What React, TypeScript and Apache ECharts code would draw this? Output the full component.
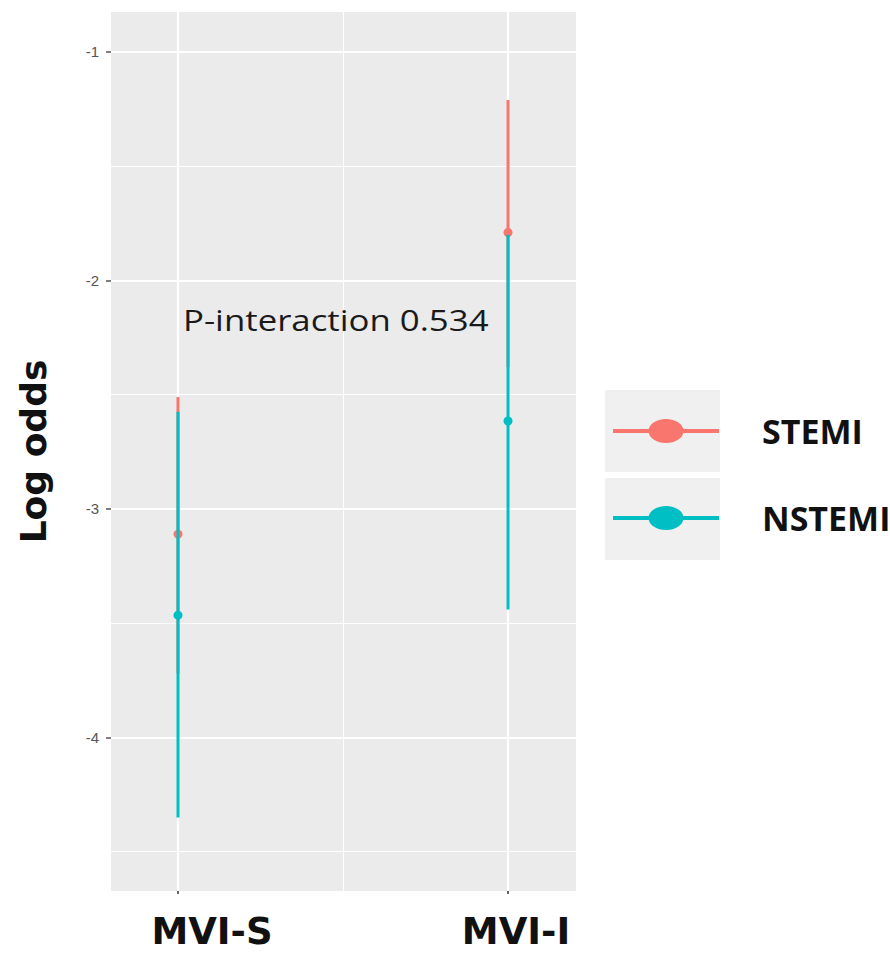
import React, { useEffect, useRef } from "react";
import * as echarts from "echarts";

const categories = ["MVI-S", "MVI-I"];
const categoryPos = [1, 2];
const groups = ["STEMI", "NSTEMI"];
const stemiEst = [-3.11, -1.79];
const stemiLow = [-3.72, -2.38];
const stemiHigh = [-2.51, -1.21];
const nstemiEst = [-3.465, -2.615];
const nstemiLow = [-4.35, -3.44];
const nstemiHigh = [-2.575, -1.8];
const yTickValues = [-4, -3, -2, -1];
const yMajorGrid = [-4, -3, -2, -1];
const yMinorGrid = [-4.5, -3.5, -2.5, -1.5];
const xMajorGrid = [1, 2];
const xMinorGrid = [1.5];
const annotation = "P-interaction 0.534";

const RED = "#F8766D";
const TEAL = "#00BFC4";

const legendIcon =
  "path://M0,10H37V14H0Z M69,10H106V14H69Z M35.5,12A17.5,12 0 1,1 70.5,12A17.5,12 0 1,1 35.5,12Z";

function errorBarSeries(name: string, color: string, lo: number[], hi: number[], z: number) {
  return {
    name,
    type: "custom",
    z,
    itemStyle: { color },
    encode: { x: 0, y: [1, 2] },
    data: categoryPos.map((x, i) => [x, lo[i], hi[i]]),
    renderItem: (params: any, api: any) => {
      const x = api.value(0);
      const p1 = api.coord([x, api.value(1)]);
      const p2 = api.coord([x, api.value(2)]);
      return {
        type: "line",
        shape: { x1: p1[0], y1: p1[1], x2: p2[0], y2: p2[1] },
        style: { stroke: color, lineWidth: 3 },
      };
    },
  };
}

function pointSeries(name: string, color: string, est: number[], z: number) {
  return {
    name,
    type: "scatter",
    z,
    symbol: "circle",
    symbolSize: 9,
    itemStyle: { color, opacity: 1 },
    data: categoryPos.map((x, i) => [x, est[i]]),
  };
}

function legendFor(name: string, top: number) {
  return {
    orient: "vertical",
    left: 608,
    top,
    itemWidth: 106,
    itemHeight: 24,
    data: [{ name, icon: legendIcon }],
    textStyle: {
      fontFamily: "Open Sans",
      fontWeight: "bold",
      fontSize: 34,
      color: "#111111",
      padding: [0, 0, 0, 38],
    },
    selectedMode: false,
  };
}

export default function App() {
  const ref = useRef<HTMLDivElement>(null);
  useEffect(() => {
    if (!ref.current) return;
    const chart = echarts.init(ref.current, undefined, { renderer: "svg" });
    const gridLines = [
      ...yMajorGrid.map((v) => ({ yAxis: v, lineStyle: { width: 2.2 } })),
      ...yMinorGrid.map((v) => ({ yAxis: v, lineStyle: { width: 1.1 } })),
      ...xMajorGrid.map((v) => ({ xAxis: v, lineStyle: { width: 2.2 } })),
      ...xMinorGrid.map((v) => ({ xAxis: v, lineStyle: { width: 1.1 } })),
    ];
    const labelRich = (padLeft: number) => ({
      fontFamily: "DejaVu Sans",
      fontWeight: "bold",
      fontSize: 37,
      lineHeight: 30,
      color: "#111111",
      padding: [0, 0, 0, padLeft],
    });
    chart.setOption({
      animation: false,
      backgroundColor: "#ffffff",
      grid: {
        left: 111,
        top: 12,
        width: 465,
        height: 879,
        show: true,
        backgroundColor: "#ebebeb",
        borderWidth: 0,
      },
      xAxis: {
        type: "value",
        min: 0.797,
        max: 2.206,
        axisLine: { show: false },
        splitLine: { show: false },
        axisTick: {
          show: true,
          customValues: categoryPos,
          length: 3,
          lineStyle: { color: "#333333", width: 1.5 },
        },
        axisLabel: {
          customValues: categoryPos,
          margin: 25,
          formatter: (v: number) => {
            const i = categoryPos.indexOf(v);
            return i === 0 ? "{a|" + categories[0] + "}" : "{b|" + categories[1] + "}";
          },
          rich: { a: labelRich(68), b: labelRich(16) },
        },
      },
      yAxis: {
        type: "value",
        min: -4.672,
        max: -0.825,
        name: "Log odds",
        nameLocation: "middle",
        nameGap: 60,
        nameRotate: 90,
        nameTextStyle: {
          fontFamily: "DejaVu Sans",
          fontWeight: "bold",
          fontSize: 36,
          color: "#111111",
        },
        axisLine: { show: false },
        splitLine: { show: false },
        axisTick: {
          show: true,
          customValues: yTickValues,
          length: 5,
          lineStyle: { color: "#555555", width: 1.5 },
        },
        axisLabel: {
          customValues: yTickValues,
          margin: 12,
          fontFamily: "Liberation Sans",
          fontSize: 15,
          color: "#555555",
        },
      },
      legend: [legendFor(groups[0], 409), legendFor(groups[1], 496)],
      graphic: [
        {
          type: "rect",
          left: 605,
          top: 390,
          z: -1,
          shape: { width: 115, height: 82 },
          style: { fill: "#f0f0f0" },
        },
        {
          type: "rect",
          left: 605,
          top: 478,
          z: -1,
          shape: { width: 115, height: 82 },
          style: { fill: "#f0f0f0" },
        },
        {
          type: "text",
          x: 183,
          y: 320,
          scaleX: 1.2,
          z: 20,
          style: {
            text: annotation,
            fontFamily: "Open Sans",
            fontSize: 29,
            fill: "#1a1a1a",
            textAlign: "left",
            textVerticalAlign: "middle",
          },
        },
      ],
      series: [
        {
          name: "gridlines",
          type: "scatter",
          z: 1,
          data: [],
          markLine: {
            z: 1,
            silent: true,
            symbol: ["none", "none"],
            label: { show: false },
            lineStyle: { color: "#ffffff", type: "solid" },
            data: gridLines,
          },
        },
        errorBarSeries(groups[0], RED, stemiLow, stemiHigh, 10),
        pointSeries(groups[0], RED, stemiEst, 11),
        errorBarSeries(groups[1], TEAL, nstemiLow, nstemiHigh, 12),
        pointSeries(groups[1], TEAL, nstemiEst, 13),
      ],
    });
    return () => chart.dispose();
  }, []);
  return (
    <div
      ref={ref}
      style={{ position: "fixed", left: 0, top: 0, width: 890, height: 954, background: "#fff" }}
    />
  );
}
